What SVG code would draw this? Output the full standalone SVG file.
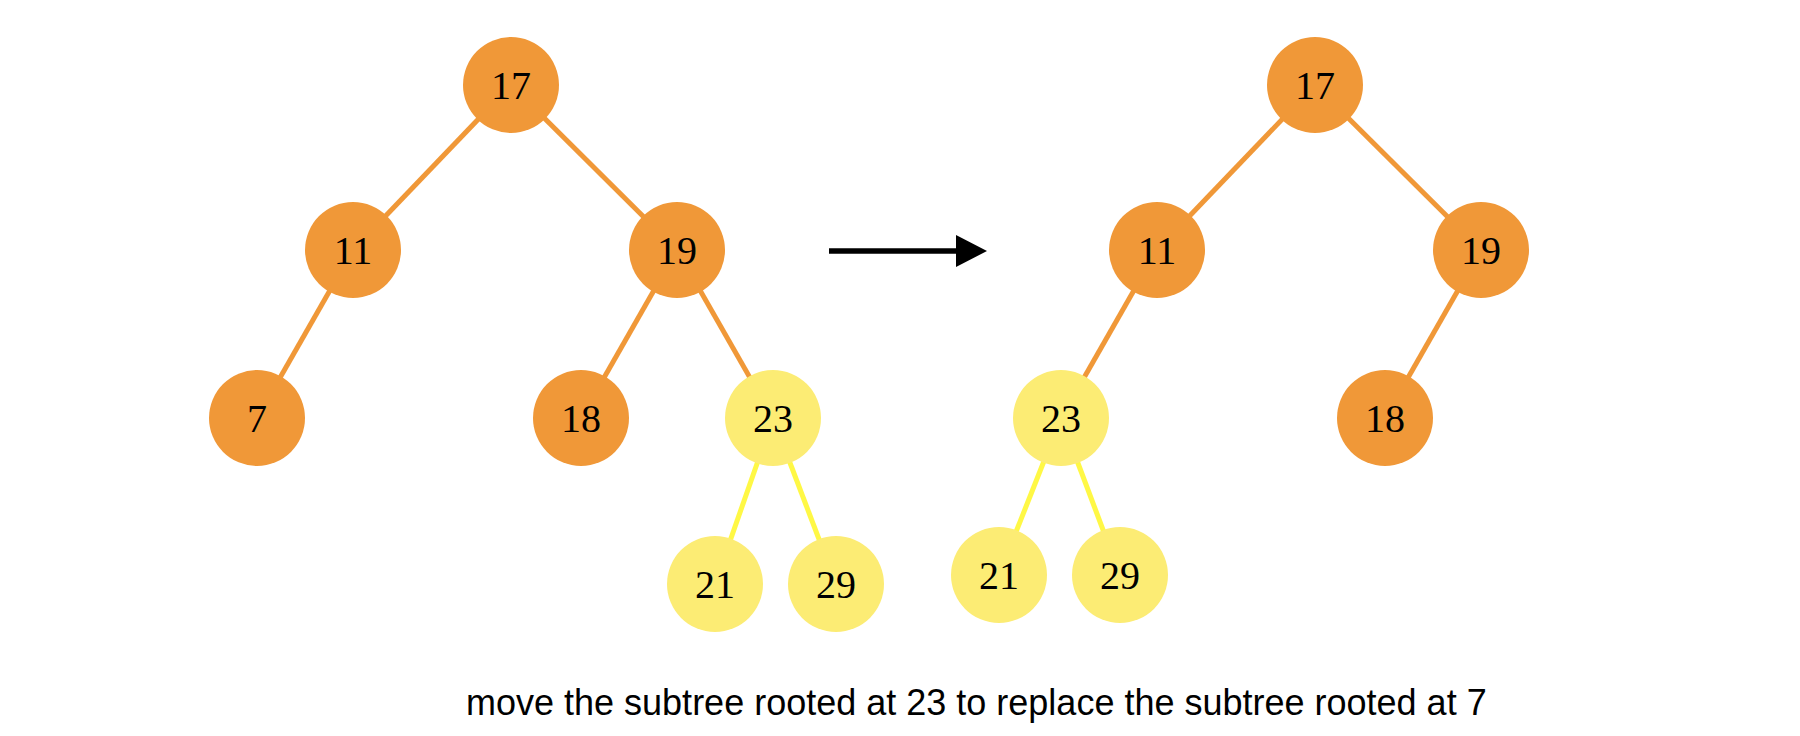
<svg xmlns="http://www.w3.org/2000/svg" width="1800" height="736" viewBox="0 0 1800 736">
  <style>
    .o circle { fill: #F09838; }
    .y circle { fill: #FCEC74; }
    text.n { font-family: "Liberation Serif", "Times New Roman", serif; font-size: 40px; fill: #000; text-anchor: middle; }
    .eo { stroke: #F09838; stroke-width: 5; fill: none; }
    .ey { stroke: #FFF845; stroke-width: 5; fill: none; }
    .cap { font-family: "Liberation Sans", Arial, sans-serif; font-size: 36px; fill: #000; }
  </style>
  <rect width="1800" height="736" fill="#fff"/>

  <g id="connectors">
    <line class="eo" x1="511" y1="85" x2="353" y2="250"/>
    <line class="eo" x1="511" y1="85" x2="677" y2="250"/>
    <line class="eo" x1="353" y1="250" x2="257" y2="418"/>
    <line class="eo" x1="677" y1="250" x2="581" y2="418"/>
    <line class="eo" x1="677" y1="250" x2="773" y2="418"/>
    <line class="ey" x1="773" y1="418" x2="715" y2="584"/>
    <line class="ey" x1="773" y1="418" x2="836" y2="584"/>

    <line class="eo" x1="1315" y1="85" x2="1157" y2="250"/>
    <line class="eo" x1="1315" y1="85" x2="1481" y2="250"/>
    <line class="eo" x1="1157" y1="250" x2="1061" y2="418"/>
    <line class="eo" x1="1481" y1="250" x2="1385" y2="418"/>
    <line class="ey" x1="1061" y1="418" x2="999" y2="575"/>
    <line class="ey" x1="1061" y1="418" x2="1120" y2="575"/>

    <line x1="829" y1="251" x2="958" y2="251" stroke="#000" stroke-width="5.5"/>
    <path d="M956,235 L987,251 L956,267 Z" fill="#000"/>
  </g>

  <g id="L17" class="o"><circle cx="511" cy="85" r="48"/><text class="n" x="511" y="99">17</text></g>
  <g id="L11" class="o"><circle cx="353" cy="250" r="48"/><text class="n" x="353" y="264">11</text></g>
  <g id="L19" class="o"><circle cx="677" cy="250" r="48"/><text class="n" x="677" y="264">19</text></g>
  <g id="L7" class="o"><circle cx="257" cy="418" r="48"/><text class="n" x="257" y="432">7</text></g>
  <g id="L18" class="o"><circle cx="581" cy="418" r="48"/><text class="n" x="581" y="432">18</text></g>
  <g id="L23" class="y"><circle cx="773" cy="418" r="48"/><text class="n" x="773" y="432">23</text></g>
  <g id="L21" class="y"><circle cx="715" cy="584" r="48"/><text class="n" x="715" y="598">21</text></g>
  <g id="L29" class="y"><circle cx="836" cy="584" r="48"/><text class="n" x="836" y="598">29</text></g>

  <g id="R17" class="o"><circle cx="1315" cy="85" r="48"/><text class="n" x="1315" y="99">17</text></g>
  <g id="R11" class="o"><circle cx="1157" cy="250" r="48"/><text class="n" x="1157" y="264">11</text></g>
  <g id="R19" class="o"><circle cx="1481" cy="250" r="48"/><text class="n" x="1481" y="264">19</text></g>
  <g id="R18" class="o"><circle cx="1385" cy="418" r="48"/><text class="n" x="1385" y="432">18</text></g>
  <g id="R23" class="y"><circle cx="1061" cy="418" r="48"/><text class="n" x="1061" y="432">23</text></g>
  <g id="R21" class="y"><circle cx="999" cy="575" r="48"/><text class="n" x="999" y="589">21</text></g>
  <g id="R29" class="y"><circle cx="1120" cy="575" r="48"/><text class="n" x="1120" y="589">29</text></g>

  <text id="caption" class="cap" x="466" y="715">move the subtree rooted at 23 to replace the subtree rooted at 7</text>
</svg>
